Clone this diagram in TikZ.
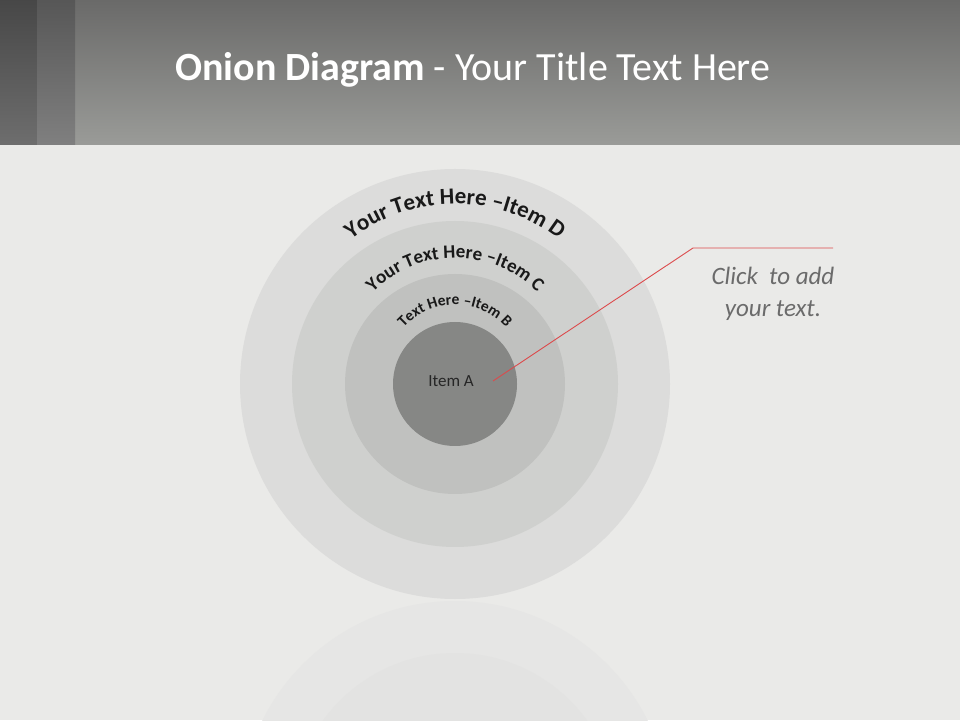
\documentclass[tikz,border=0pt]{standalone}
\usepackage{fontspec}
\setmainfont{Carlito}
\usetikzlibrary{decorations.text}

\definecolor{concrete}{HTML}{EAEAE8}
\definecolor{headtop}{HTML}{6A6A69}
\definecolor{headbot}{HTML}{9A9B98}
\definecolor{ringD}{HTML}{DCDCDB}
\definecolor{ringC}{HTML}{CFD0CE}
\definecolor{ringB}{HTML}{C0C1BF}
\definecolor{ringA}{HTML}{868785}
\definecolor{reflD}{HTML}{E6E6E5}
\definecolor{reflC}{HTML}{E3E3E2}
\definecolor{calloutred}{HTML}{DC4A4C}
\definecolor{calloutgray}{HTML}{6B6B6B}

\begin{document}
\begin{tikzpicture}[x=1pt, y=1pt,
        ring/.style={circle, inner sep=0pt, draw=none},
        arctext/.style={decorate, decoration={text along path, text align=center, text color=black!90}}]
  \useasboundingbox (0,0) rectangle (960,720);
  \fill[concrete] (0,0) rectangle (960,720);

  % header band
  \shade[top color=headtop, bottom color=headbot] (0,575) rectangle (960,720);
  \shade[top color=black!72, bottom color=black!57] (0,575) rectangle (37,720);
  \shade[top color=black!66, bottom color=black!50] (37,575) rectangle (75,720);
  \node[anchor=base west, inner sep=0pt, text=white, font=\fontsize{40}{40}\selectfont] (title) at (175,639)
    {\textbf{Onion Diagram} - Your Title Text Here};

  % reflection
  \begin{scope}
    \clip (0,0) rectangle (960,120);
    \node[ring, minimum size=430pt, fill=reflD] (mirD) at (455,-96) {};
    \node[ring, minimum size=326pt, fill=reflC] (mirC) at (455,-96) {};
  \end{scope}

  % onion rings
  \coordinate (ctr) at (455,336);
  \coordinate (arcctr) at (455,346);
  \node[ring, minimum size=430pt, fill=ringD] (itemD) at (ctr) {};
  \node[ring, minimum size=326pt, fill=ringC] (itemC) at (ctr) {};
  \node[ring, minimum size=220pt, fill=ringB] (itemB) at (ctr) {};
  \node[ring, minimum size=124pt, fill=ringA] (itemA) at (ctr) {};
  \node[text=black!85, font=\fontsize{17}{17}\selectfont] (labelA) at (451,339) {Item A};

  \path[arctext, decoration={text={|\bfseries\fontsize{23}{23}\selectfont|Your Text Here –Item D}}]
    (arcctr) ++(165:170) arc[start angle=165, end angle=15, radius=170];
  \path[arctext, decoration={text={|\bfseries\fontsize{19}{19}\selectfont|Your Text Here –Item C}}]
    (arcctr) ++(175:116) arc[start angle=175, end angle=5, radius=116];
  \path[arctext, decoration={text={|\bfseries\fontsize{15.5}{15.5}\selectfont|Text Here –Item B}}]
    (arcctr) ++(178:69) arc[start angle=178, end angle=2, radius=69];

  % callout
  \coordinate (tip) at (493,339);
  \coordinate (knee) at (693,472);
  \coordinate (tail) at (833,472);
  \draw[calloutred, line width=0.9pt] (tip) -- (knee) -- (tail);
  \node[align=center, text=calloutgray, font=\itshape\fontsize{25}{32}\selectfont] (note) at (773,426)
    {Click~ to add\\your text.};
\end{tikzpicture}
\end{document}
